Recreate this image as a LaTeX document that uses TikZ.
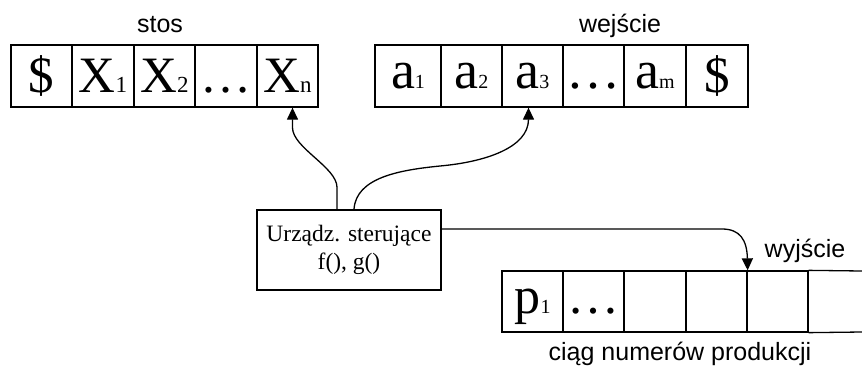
\documentclass[tikz,border=0pt]{standalone}
\usepackage{fontspec}
\setmainfont{Liberation Serif}
\newfontfamily\labfont{Liberation Sans}
\usetikzlibrary{arrows.meta}
\tikzset{
  cell/.style={draw, line width=1.3pt, rectangle, inner sep=0pt, minimum height=62pt, text height=32pt, text depth=0pt, font=\fontsize{51}{51}\selectfont},
  incell/.style={cell, text height=24pt, font=\fontsize{54}{54}\selectfont},
  outcell/.style={cell, minimum height=61pt, text height=23pt, font=\fontsize{52}{52}\selectfont},
  ctrl/.style={draw, line width=1.3pt, rectangle, minimum width=184pt, minimum height=80pt, align=center, font=\fontsize{23.5}{28}\selectfont},
  lab/.style={anchor=base, inner sep=0pt, font=\labfont\fontsize{25}{25}\selectfont},
  conn/.style={line width=1.3pt, -{Triangle[length=12pt,width=11pt]}},
  wire/.style={line width=1.3pt}
}
\newcommand{\sbig}[2]{#1{\fontsize{23}{23}\selectfont #2}}
\newcommand{\ssmall}[2]{#1{\fontsize{20}{20}\selectfont #2}}
\begin{document}
\begin{tikzpicture}[x=1pt,y=-1pt]
\useasboundingbox (0,0) rectangle (862,367);
% stack
\node[cell, minimum width=61pt] (s1) at (41.5,76) {\$};
\node[cell, minimum width=62pt] (s2) at (103,76) {\sbig{X}{1}};
\node[cell, minimum width=61pt] (s3) at (164.5,76) {\sbig{X}{2}};
\node[cell, minimum width=62pt] (s4) at (226,76) {\textellipsis};
\node[cell, minimum width=61pt] (s5) at (287.5,76) {\sbig{X}{n}};
\node[lab] (stos) at (160,32) {stos};
% input
\node[incell, minimum width=66pt] (a1) at (408,76) {\ssmall{a}{1}};
\node[incell, minimum width=61pt] (a2) at (471.5,76) {\ssmall{a}{2}};
\node[incell, minimum width=61pt] (a3) at (532.5,76) {\ssmall{a}{3}};
\node[incell, minimum width=61pt] (a4) at (593.5,76) {\textellipsis};
\node[incell, minimum width=62pt] (a5) at (655,76) {\ssmall{a}{m}};
\node[cell, minimum width=62pt] (a6) at (717,76) {\$};
\node[lab] (wej) at (620,32) {wejście};
% controller
\node[ctrl] (c) at (349,250) {Urządz. sterujące\\f(), g()};
% output
\node[outcell, minimum width=61pt] (o1) at (532.5,301.5) {\ssmall{p}{1}};
\node[outcell, minimum width=61pt] (o2) at (593.5,301.5) {\textellipsis};
\node[outcell, minimum width=62pt] (o3) at (655,301.5) {};
\node[outcell, minimum width=61pt] (o4) at (716.5,301.5) {};
\node[outcell, minimum width=61pt] (o5) at (777.5,301.5) {};
\coordinate (oend1) at (862,271);
\coordinate (oend2) at (862,332);
\draw[wire] (o5.north east) -- (oend1);
\draw[wire] (o5.south east) -- (oend2);
\node[lab] (wyj) at (805,257) {wyjście};
\node[lab] (ciag) at (680,360) {ciąg numerów produkcji};
% connectors
\draw[conn] ([xshift=-12pt]c.north) -- ++(0,-22) .. controls ++(0,-20) and ([xshift=5pt,yshift=-40pt]s5.south) .. ([xshift=5pt,yshift=-20pt]s5.south) -- ([xshift=5pt]s5.south);
\draw[conn] ([xshift=5pt]c.north) .. controls ++(2,-32) and ++(-40,4) .. (440,166) .. controls ++(45,-4) and ([xshift=-4pt,yshift=-40pt]a3.south) .. ([xshift=-4pt]a3.south);
\draw[conn] ([yshift=21pt]c.east) -- (722,229) .. controls (740,229) and (747,240) .. (o4.north east);
\end{tikzpicture}
\end{document}
